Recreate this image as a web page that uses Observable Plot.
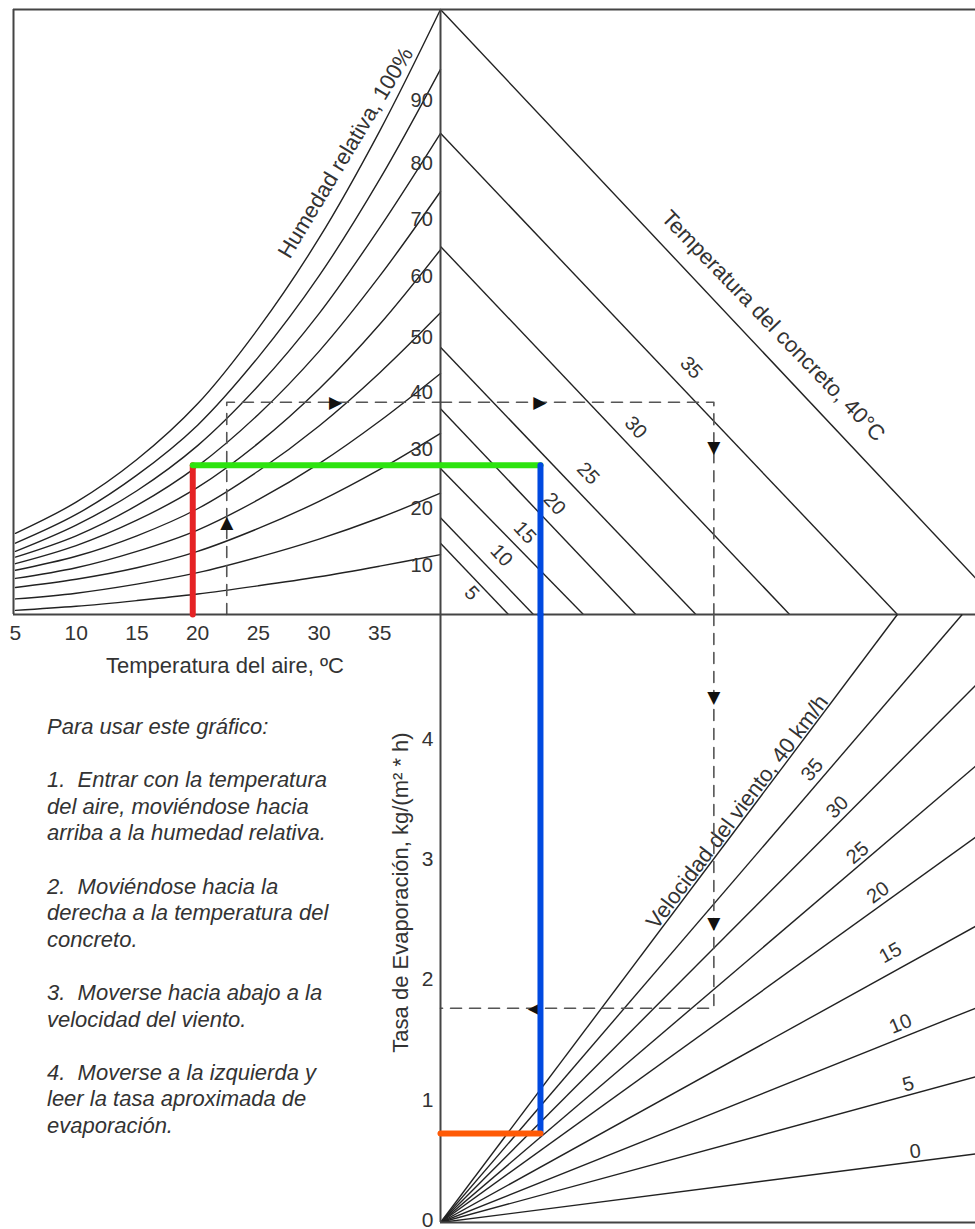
<!DOCTYPE html>
<html>
<head>
<meta charset="utf-8">
<script src="https://cdn.jsdelivr.net/npm/d3@7"></script>
<script src="https://cdn.jsdelivr.net/npm/@observablehq/plot@0.6"></script>
<style>
  html, body { margin: 0; padding: 0; background: #fff; overflow: hidden; }
  #chart { position: relative; width: 975px; height: 1229px; font-family: "Liberation Sans", Arial, Helvetica, sans-serif; }
  #chart svg { position: absolute; left: 0; top: 0; }
  #notes { position: absolute; left: 47px; top: 714px; font-style: italic; font-size: 22px; line-height: 26.6px; color: #333; white-space: pre; }
</style>
</head>
<body>
<div id="chart"><div id="notes"></div></div>
<script>
// ---------------- DATA ----------------
// Air temperature (°C) at which the relative-humidity curves are read
const airTemps = [5, 10, 15, 20, 25, 30, 35, 40];
const humidityLevels = [100, 90, 80, 70, 60, 50, 40, 30, 20, 10];
// Vapour pressure of air (kPa) for each relative humidity curve
const vp100 = [0.99, 1.37, 1.89, 2.57, 3.49, 4.59, 5.90, 7.38];
const vp90  = [0.87, 1.22, 1.70, 2.31, 3.14, 4.13, 5.31, 6.65];
const vp80  = [0.77, 1.09, 1.51, 2.06, 2.79, 3.67, 4.72, 5.87];
const vp70  = [0.70, 0.96, 1.33, 1.81, 2.44, 3.21, 4.13, 5.16];
const vp60  = [0.62, 0.84, 1.15, 1.55, 2.09, 2.75, 3.54, 4.45];
const vp50  = [0.54, 0.71, 0.96, 1.29, 1.75, 2.30, 2.95, 3.68];
const vp40  = [0.44, 0.57, 0.77, 1.03, 1.40, 1.84, 2.36, 2.94];
const vp30  = [0.33, 0.43, 0.57, 0.77, 1.05, 1.38, 1.77, 2.21];
const vp20  = [0.19, 0.26, 0.37, 0.51, 0.70, 0.92, 1.18, 1.48];
const vp10  = [0.05, 0.10, 0.17, 0.25, 0.35, 0.46, 0.59, 0.73];
const humidityCurves = [vp100, vp90, vp80, vp70, vp60, vp50, vp40, vp30, vp20, vp10];
const tempTicks = [5, 10, 15, 20, 25, 30, 35];

// Concrete temperature lines: vapour pressure at left end, vapour-pressure difference at bottom end (kPa)
const concreteTemps    = [5, 10, 15, 20, 25, 30, 35, 40];
const concreteStartVP  = [0.87, 1.18, 1.78, 2.51, 3.26, 4.49, 5.87, 7.38];
const concreteEndDelta = [0.87, 1.19, 1.83, 2.50, 3.27, 4.47, 5.85, 7.29];

// Wind speed lines (km/h): end point (vapour-pressure difference, evaporation rate)
const windSpeeds    = [0, 5, 10, 15, 20, 25, 30, 35, 40];
const windEndDelta  = [6.85, 6.85, 6.85, 6.85, 6.85, 6.85, 6.85, 6.68, 5.85];
const windEndRate   = [0.57, 1.21, 1.78, 2.46, 3.20, 3.79, 4.46, 5.05, 5.05];
const rateTicks = [0, 1, 2, 3, 4];

// Example paths
const dashedAirT = 22.4, dashedVP = 2.59, dashedDelta = 3.50, dashedRate = 1.78;
const workAirT = 19.6, workVP = 1.82, workDelta = 1.28, workRate = 0.74;

// Label anchors (data units)
const rhLabelLevels = [90, 80, 70, 60, 50, 40, 30, 20, 10];
const rhLabelVP = [6.27, 5.50, 4.82, 4.12, 3.38, 2.71, 2.01, 1.29, 0.60];
const concreteLabelTemps = [35, 30, 25, 20, 15, 10, 5];
const concreteLabelDelta = [3.21, 2.50, 1.89, 1.46, 1.08, 0.78, 0.40];
const concreteLabelVP    = [3.01, 2.28, 1.72, 1.35, 1.00, 0.72, 0.26];
const windLabelSpeeds = [35, 30, 25, 20, 15, 10, 5, 0];
const windLabelDelta  = [4.76, 5.08, 5.34, 5.60, 5.76, 5.89, 5.99, 6.08];
const windLabelRate   = [3.76, 3.45, 3.07, 2.74, 2.24, 1.65, 1.15, 0.59];
const windLabelAngle  = [-49, -45, -40.5, -36, -29, -22, -15, -7];

const instructionLines = [
  "Para usar este gráfico:",
  "",
  "1.  Entrar con la temperatura",
  "del aire, moviéndose hacia",
  "arriba a la humedad relativa.",
  "",
  "2.  Moviéndose hacia la",
  "derecha a la temperatura del",
  "concreto.",
  "",
  "3.  Moverse hacia abajo a la",
  "velocidad del viento.",
  "",
  "4.  Moverse a la izquierda y",
  "leer la tasa aproximada de",
  "evaporación."
];

// ---------------- CHART ----------------
const font = '"Liberation Sans", Arial, Helvetica, sans-serif';
const W = 975, H = 1229;
const vpMax = 7.38, deltaMax = 6.85, rateMax = 5.05, tMin = 4.84, tMax = 40;
const frameStroke = "#444", frameW = 2;
const lineStroke = "#222", lineW = 1.4;
const dash = "11,8", dashStroke = "#555";
const RED = "#e52325", GREEN = "#2de30f", BLUE = "#0049e0", ORANGE = "#ff5a06";
const arrowFont = "DejaVu Sans";
const arrowSize = 17;
const base = {
  width: W, height: H,
  style: `position:absolute;left:0;top:0;background:transparent;overflow:visible;font-family:${font};color:#333;`
};

const humidityRows = humidityLevels.flatMap((rh, i) =>
  airTemps.map((t, j) => ({rh, t, vp: humidityCurves[i][j]})));

const concreteRows = concreteTemps.map((c, i) => ({c, x1: 0, y1: concreteStartVP[i], x2: concreteEndDelta[i], y2: 0}));
const windRows = windSpeeds.map((v, i) => ({v, x1: 0, y1: 0, x2: windEndDelta[i], y2: windEndRate[i]}));

// ---- Panel A: relative humidity vs air temperature ----
const plotA = Plot.plot({
  ...base,
  marginLeft: 13, marginRight: W - 440, marginTop: 9, marginBottom: H - 614,
  x: {domain: [tMin, tMax]},
  y: {domain: [0, vpMax], axis: null},
  marks: [
    Plot.line(humidityRows, {x: "t", y: "vp", z: "rh", curve: "catmull-rom", stroke: lineStroke, strokeWidth: lineW}),
    Plot.text(rhLabelLevels, {x: () => 38.45, y: (d, i) => rhLabelVP[i], text: d => String(d), fontSize: 20, fill: "#333"}),
    Plot.text(["Humedad relativa, 100%"], {x: () => 32.19, y: () => 5.63, rotate: -59, fontSize: 22, fill: "#333"}),
    // dashed example
    Plot.line([{t: dashedAirT, vp: 0}, {t: dashedAirT, vp: dashedVP}, {t: tMax, vp: dashedVP}],
      {x: "t", y: "vp", stroke: dashStroke, strokeWidth: 1.6, strokeDasharray: dash}),
    Plot.text([{t: dashedAirT, vp: 1.12, g: "▲"}, {t: 31.36, vp: dashedVP, g: "▶"}],
      {x: "t", y: "vp", text: "g", fontSize: arrowSize, fontFamily: arrowFont, fill: "#111"}),
    // frame
    Plot.ruleY([0], {stroke: frameStroke, strokeWidth: frameW}),
    Plot.ruleY([vpMax], {stroke: frameStroke, strokeWidth: frameW}),
    Plot.ruleX([tMin], {stroke: frameStroke, strokeWidth: frameW}),
    // worked example
    Plot.line([{t: workAirT, vp: 0}, {t: workAirT, vp: workVP}], {x: "t", y: "vp", stroke: RED, strokeWidth: 6, strokeLinecap: "round"}),
    Plot.line([{t: workAirT, vp: workVP}, {t: tMax, vp: workVP}], {x: "t", y: "vp", stroke: GREEN, strokeWidth: 6, strokeLinecap: "round"}),
    Plot.axisX(tempTicks, {tickSize: 0, tickPadding: 11, fontSize: 21, label: null, fill: "#333"}),
    Plot.text(["Temperatura del aire, ºC"], {frameAnchor: "bottom", textAnchor: "middle", lineAnchor: "middle", dy: 51, dx: -2, fontSize: 22, fill: "#333"})
  ]
});

// ---- Panel B: concrete temperature ----
const plotB = Plot.plot({
  ...base,
  marginLeft: 440, marginRight: 0, marginTop: 9, marginBottom: H - 614,
  x: {domain: [0, deltaMax], axis: null},
  y: {domain: [0, vpMax], axis: null},
  marks: [
    Plot.link(concreteRows, {x1: "x1", y1: "y1", x2: "x2", y2: "y2", stroke: lineStroke, strokeWidth: lineW, clip: true}),
    Plot.text(concreteLabelTemps, {x: (d, i) => concreteLabelDelta[i], y: (d, i) => concreteLabelVP[i], text: d => String(d), rotate: 47, fontSize: 20, fill: "#333"}),
    Plot.text(["Temperatura del concreto, 40°C"], {x: () => 4.26, y: () => 3.52, rotate: 46, fontSize: 22, fill: "#333"}),
    Plot.line([{d: 0, vp: dashedVP}, {d: dashedDelta, vp: dashedVP}, {d: dashedDelta, vp: 0}],
      {x: "d", y: "vp", stroke: dashStroke, strokeWidth: 1.6, strokeDasharray: dash}),
    Plot.text([{d: 1.27, vp: dashedVP, g: "▶"}, {d: dashedDelta, vp: 2.04, g: "▼"}],
      {x: "d", y: "vp", text: "g", fontSize: arrowSize, fontFamily: arrowFont, fill: "#111"}),
    Plot.ruleY([0], {stroke: frameStroke, strokeWidth: frameW}),
    Plot.ruleY([vpMax], {stroke: frameStroke, strokeWidth: frameW}),
    Plot.ruleX([0], {stroke: frameStroke, strokeWidth: frameW}),
    Plot.line([{d: 0, vp: workVP}, {d: workDelta, vp: workVP}], {x: "d", y: "vp", stroke: GREEN, strokeWidth: 6, strokeLinecap: "round"}),
    Plot.line([{d: workDelta, vp: workVP}, {d: workDelta, vp: 0}], {x: "d", y: "vp", stroke: BLUE, strokeWidth: 6, strokeLinecap: "round"})
  ]
});

// ---- Panel C: wind speed / evaporation rate ----
const plotC = Plot.plot({
  ...base,
  marginLeft: 440, marginRight: 0, marginTop: 614, marginBottom: H - 1222,
  x: {domain: [0, deltaMax], axis: null},
  y: {domain: [0, rateMax]},
  marks: [
    Plot.link(windRows, {x1: "x1", y1: "y1", x2: "x2", y2: "y2", stroke: lineStroke, strokeWidth: lineW, clip: true}),
    Plot.text(windLabelSpeeds, {x: (d, i) => windLabelDelta[i], y: (d, i) => windLabelRate[i], text: d => String(d),
      rotate: (d, i) => windLabelAngle[i], fontSize: 20, fill: "#333", fontStyle: d => d === 0 ? "italic" : "normal"}),
    Plot.text(["Velocidad del viento, 40 km/h"], {x: () => 3.80, y: () => 3.41, rotate: -53, fontSize: 22, fill: "#333"}),
    Plot.line([{d: dashedDelta, r: rateMax}, {d: dashedDelta, r: dashedRate}, {d: 0, r: dashedRate}],
      {x: "d", y: "r", stroke: dashStroke, strokeWidth: 1.6, strokeDasharray: dash}),
    Plot.text([{d: dashedDelta, r: 4.36, g: "▼"}, {d: dashedDelta, r: 2.48, g: "▼"}, {d: 1.20, r: dashedRate, g: "◀"}],
      {x: "d", y: "r", text: "g", fontSize: arrowSize, fontFamily: arrowFont, fill: "#111"}),
    Plot.ruleY([0], {stroke: frameStroke, strokeWidth: frameW}),
    Plot.ruleX([0], {stroke: frameStroke, strokeWidth: frameW}),
    Plot.line([{d: workDelta, r: rateMax}, {d: workDelta, r: workRate}], {x: "d", y: "r", stroke: BLUE, strokeWidth: 6, strokeLinecap: "round"}),
    Plot.line([{d: 0, r: workRate}, {d: workDelta, r: workRate}], {x: "d", y: "r", stroke: ORANGE, strokeWidth: 6}),
    Plot.axisY(rateTicks, {anchor: "left", tickSize: 0, tickPadding: 7, fontSize: 21, label: null, fill: "#333", dy: -2, tickFormat: d => String(d)}),
    Plot.text(["Tasa de Evaporación, kg/(m² * h)"], {frameAnchor: "left", textAnchor: "middle", lineAnchor: "middle", rotate: -90, dx: -40, dy: -26, fontSize: 22, fill: "#333"})
  ]
});

const chart = document.getElementById("chart");
chart.appendChild(plotA);
chart.appendChild(plotB);
chart.appendChild(plotC);
document.getElementById("notes").textContent = instructionLines.join("\n");
</script>
</body>
</html>
